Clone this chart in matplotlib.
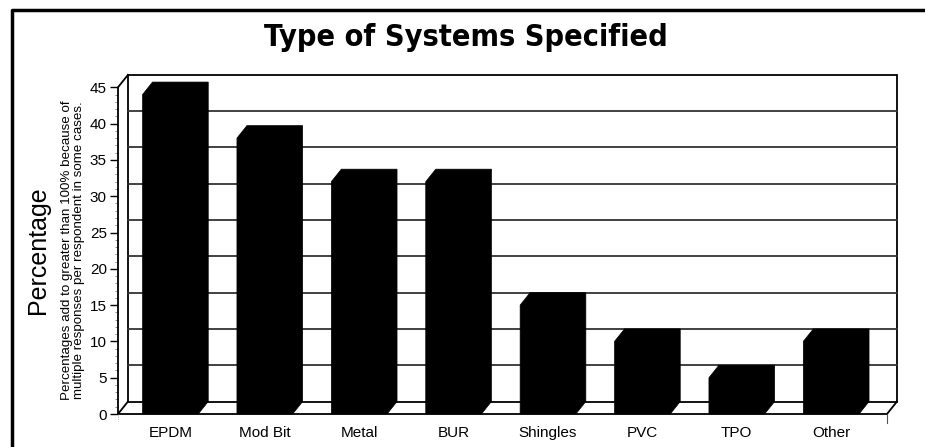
import matplotlib
matplotlib.use("Agg")
import matplotlib.pyplot as plt
from matplotlib.patches import Polygon, Rectangle

# data
categories = ["EPDM", "Mod Bit", "Metal", "BUR", "Shingles", "PVC", "TPO", "Other"]
percentages = [44, 38, 32, 32, 15, 10, 5, 10]
yticks = [0, 5, 10, 15, 20, 25, 30, 35, 40, 45]

title = "Type of Systems Specified"
ylabel = "Percentage"
note = ("Percentages add to greater than 100% because of\n"
        "multiple responses per respondent in some cases.")

W, H = 925, 447
fig = plt.figure(figsize=(W / 100, H / 100), dpi=100)

# front plane of the "3d" box, in pixels
x0_px, y0_px = 118, 414
slot_px = 94.4
unit_px = 36.3 / 5
xmax = 769 / slot_px
ymax = 45
ax = fig.add_axes([x0_px / W, (H - y0_px) / H, xmax * slot_px / W, ymax * unit_px / H])
ax.set_xlim(0, xmax)
ax.set_ylim(0, ymax)
for s in ax.spines.values():
    s.set_visible(False)
ax.set_xticks([])
ax.set_facecolor("none")

# depth offset of the back wall (in data units)
dx = 10 / slot_px
dy = 12.5 / unit_px

lw = 1.3
# back wall + grid
ax.add_patch(Rectangle((dx, dy), xmax, ymax, fill=False, ec="black", lw=lw, clip_on=False, zorder=1))
for v in yticks[1:-1]:
    ax.plot([dx, xmax + dx], [v + dy, v + dy], color="#333333", lw=lw, clip_on=False, zorder=1)
# front edges
ax.plot([0, 0, dx], [0, ymax, ymax + dy], color="black", lw=lw, clip_on=False, zorder=2)
ax.plot([dx, 0, xmax, xmax + dx], [dy, 0, 0, dy], color="black", lw=lw, clip_on=False, zorder=2)
ax.plot([xmax, xmax], [0, -1.2], color="#555555", lw=0.8, clip_on=False)
ax.plot([0, 0], [0, -1.0], color="#999999", lw=0.6, ls=":", clip_on=False)

# bars: front face plus top/side bevel, all solid black
bar_off = 0.26
bar_w = 0.59
for i, v in enumerate(percentages):
    xl = i + bar_off
    xr = xl + bar_w
    pts = [(xl, 0), (xl, v), (xl + dx, v + dy), (xr + dx, v + dy), (xr + dx, dy), (xr, 0)]
    ax.add_patch(Polygon(pts, closed=True, fc="black", ec="black", lw=0.5, clip_on=False, zorder=3))
    ax.text(xl + bar_w / 2, -2.6, categories[i], ha="center", va="center",
            fontsize=11, family=["Liberation Sans", "DejaVu Sans"])

# y ticks
ax.set_yticks(yticks)
ax.set_yticks(range(0, 46), minor=True)
ax.tick_params(axis="y", which="major", length=6, width=1.0, pad=2, labelsize=11, color="black")
ax.tick_params(axis="y", which="minor", length=2.5, width=0.5, color="#666666")
for lab in ax.get_yticklabels():
    lab.set_family(["Liberation Sans", "DejaVu Sans"])

# labels
fig.text(38 / W, 1 - 250 / H, ylabel, rotation=90, ha="center", va="center",
         fontsize=18, family=["Liberation Sans", "DejaVu Sans"])
fig.text(73 / W, 1 - 250 / H, note, rotation=90, ha="center", va="center",
         fontsize=9.6, linespacing=0.92, family=["Liberation Sans", "DejaVu Sans"])
fig.text(466 / W, 1 - 37 / H, title, ha="center", va="center", fontsize=22,
         fontweight="bold", fontstretch="condensed", family="DejaVu Sans")

# outer frame (top and left only, rest cut off)
fig.add_artist(plt.Line2D([12 / W, 12 / W, 1], [0, 1 - 10 / H, 1 - 10 / H],
                          transform=fig.transFigure, color="black", lw=2.5))

fig.savefig("out.png", dpi=100)
